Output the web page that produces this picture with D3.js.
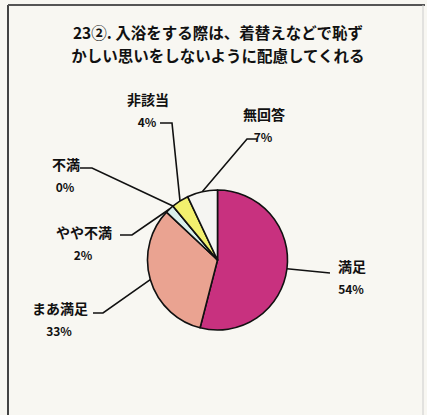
<!DOCTYPE html>
<html>
<head>
<meta charset="utf-8">
<script src="https://cdn.jsdelivr.net/npm/d3@7"></script>
<style>
  body { margin: 0; background: #f8f7f2; }
  text { font-family: "Noto Sans CJK JP", sans-serif; font-weight: bold; fill: #111; }
</style>
</head>
<body>
<script>
var width = 427;
var height = 415;

// data
var categories = ["満足", "まあ満足", "やや不満", "不満", "非該当", "無回答"];
var values = [54, 33, 2, 0, 4, 7];
var percentLabels = ["54%", "33%", "2%", "0%", "4%", "7%"];
var colors = ["#c8317f", "#eaa391", "#d9efec", "#d9efec", "#f2f06e", "#f5f5f2"];
var titleLines = ["23②. 入浴をする際は、着替えなどで恥ず", "かしい思いをしないように配慮してくれる"];

// label layout: text centre, leader elbow and leader end
var labelLayout = [
  { x: 352, y: 266, elbow: null, end: [330, 273] },
  { x: 60, y: 308, elbow: [103, 313], end: [93, 313] },
  { x: 84, y: 232, elbow: [132, 235], end: [120, 235] },
  { x: 66, y: 164, elbow: [92, 168], end: [80, 168] },
  { x: 148, y: 99, elbow: [172, 123], end: [160, 123] },
  { x: 264, y: 114, elbow: [247, 139], end: [257, 139] }
];

var cx = 217.5, cy = 260, radius = 70;

var svg = d3.select('body').append('svg').attr('width', width).attr('height', height)

// frame
svg.append("line").attr("x1", 8).attr("y1", 5).attr("x2", 8).attr("y2", height)
  .attr("stroke", "#444").attr("stroke-width", 2);
svg.append("line").attr("x1", 8).attr("y1", 5).attr("x2", 425).attr("y2", 5)
  .attr("stroke", "#555").attr("stroke-width", 2);
svg.append("line").attr("x1", 423).attr("y1", 5).attr("x2", 423).attr("y2", height)
  .attr("stroke", "#ccc").attr("stroke-width", 1);

// title
svg.append("g").selectAll("text")
  .data(titleLines)
  .enter().append("text")
  .attr("x", 218)
  .attr("y", function (d, i) { return 32 + i * 23; })
  .attr("text-anchor", "middle")
  .attr("dominant-baseline", "central")
  .style("font-size", "15.5px")
  .text(function (d) { return d; });

var pie = d3.pie().sort(null).startAngle(0).endAngle(2 * Math.PI);
var arcs = pie(values);
var arc = d3.arc().innerRadius(0).outerRadius(radius);

var g = svg.append("g").attr("transform", "translate(" + cx + "," + cy + ")");

g.selectAll("path")
  .data(arcs)
  .enter().append("path")
  .attr("d", arc)
  .attr("fill", function (d, i) { return colors[i]; })
  .attr("stroke", "#111")
  .attr("stroke-width", 1.6)
  .attr("stroke-linejoin", "round");

// leader lines
function edgePoint(d) {
  var a = (d.startAngle + d.endAngle) / 2;
  return [cx + radius * Math.sin(a), cy - radius * Math.cos(a)];
}

svg.append("g").selectAll("polyline")
  .data(arcs)
  .enter().append("polyline")
  .attr("points", function (d, i) {
    var p = [edgePoint(d)];
    var l = labelLayout[i];
    if (l.elbow) p.push(l.elbow);
    p.push(l.end);
    return p.map(function (q) { return q.join(","); }).join(" ");
  })
  .attr("fill", "none")
  .attr("stroke", "#111")
  .attr("stroke-width", 1.6);

var labels = svg.append("g").selectAll("g")
  .data(arcs)
  .enter().append("g");

labels.append("text")
  .attr("x", function (d, i) { return labelLayout[i].x; })
  .attr("y", function (d, i) { return labelLayout[i].y; })
  .attr("text-anchor", "middle")
  .attr("dominant-baseline", "central")
  .style("font-size", "14px")
  .text(function (d, i) { return categories[i]; });

labels.append("text")
  .attr("x", function (d, i) { return labelLayout[i].x - 1; })
  .attr("y", function (d, i) { return labelLayout[i].y + 22; })
  .attr("text-anchor", "middle")
  .attr("dominant-baseline", "central")
  .style("font-size", "12px")
  .text(function (d, i) { return percentLabels[i]; });
</script>
</body>
</html>
